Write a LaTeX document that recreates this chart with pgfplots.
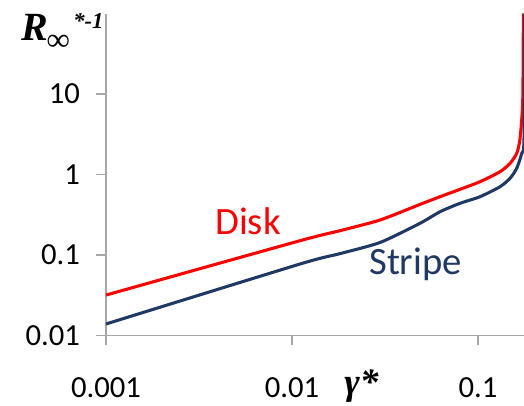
\documentclass[border=0pt]{standalone}
\usepackage{fontspec}
\setmainfont{Carlito}
\newfontfamily\timesfont{Liberation Serif}
\usepackage{pgfplots}
\pgfplotsset{compat=1.18}
\definecolor{disk}{HTML}{FF0000}
\definecolor{stripe}{HTML}{1F3864}
\definecolor{axgray}{HTML}{A6A6A6}
\begin{document}
\begin{tikzpicture}[x=1pt,y=1pt]
\useasboundingbox (-79.5,-52.875) rectangle (313.5,251.625);
\begin{axis}[
  at={(0,0)}, anchor=south west,
  scale only axis, width=313.5pt, height=241.5pt,
  xmode=log, ymode=log,
  xmin=0.001, xmax=0.1766, ymin=0.01, ymax=100,
  axis x line*=bottom, axis y line*=left,
  axis line style={draw=axgray, line width=1.1pt, -},
  xtick={0.001,0.01,0.1}, xticklabels={0.001,0.01,0.1},
  ytick={0.01,0.1,1,10}, yticklabels={0.01,0.1,1,10},
  xminorticks=false, yminorticks=false,
  tick align=outside, major tick length=7.5pt,
  tick style={draw=axgray, line width=1.1pt},
  ticklabel style={font=\fontsize{23}{27}\selectfont},
  xticklabel style={yshift=-20.5pt},
  yticklabel style={xshift=-8.5pt},
  clip=true,
]
\addplot[disk, line width=2.3pt, line join=round, smooth, tension=0.4] coordinates {
(0.001,0.0318) (0.01104,0.1505) (0.01811,0.2005) (0.02972,0.272)
(0.04875,0.425) (0.0625,0.530) (0.0800,0.655) (0.1025,0.814)
(0.1313,1.083) (0.1486,1.377) (0.1614,1.834) (0.1682,2.8)
(0.1739,8.4) (0.1752,100)
};
\addplot[stripe, line width=2.3pt, line join=round, smooth, tension=0.4] coordinates {
(0.001,0.0139) (0.01104,0.0773) (0.01811,0.104) (0.02972,0.143)
(0.04875,0.2476) (0.0625,0.345) (0.0800,0.4387) (0.1025,0.530)
(0.1313,0.7054) (0.1486,0.897) (0.1614,1.194) (0.1718,1.834)
(0.1766,2.68) (0.1780,100)
};
\end{axis}
\node[anchor=base west, inner sep=0, text=disk, font=\fontsize{29}{30}\selectfont] at (81.75,75.4) {Disk};
\node[anchor=base west, inner sep=0, text=stripe, font=\fontsize{29}{30}\selectfont] at (197.25,46.1) {Stripe};
\node[anchor=base west, inner sep=0, font=\timesfont\bfseries\itshape\fontsize{30}{30}\selectfont] at (-63.75,221.6) {R};
\node[anchor=base west, inner sep=0, font=\timesfont\bfseries\fontsize{24}{24}\selectfont] at (-44.5,214) {∞};
\node[anchor=base west, inner sep=0, font=\timesfont\bfseries\itshape\fontsize{17}{17}\selectfont] at (-24.75,230.6) {*-1};
\node[anchor=base west, inner sep=0, font=\timesfont\bfseries\itshape\fontsize{28}{28}\selectfont] at (178.5,-43.9) {γ*};
\end{tikzpicture}
\end{document}
